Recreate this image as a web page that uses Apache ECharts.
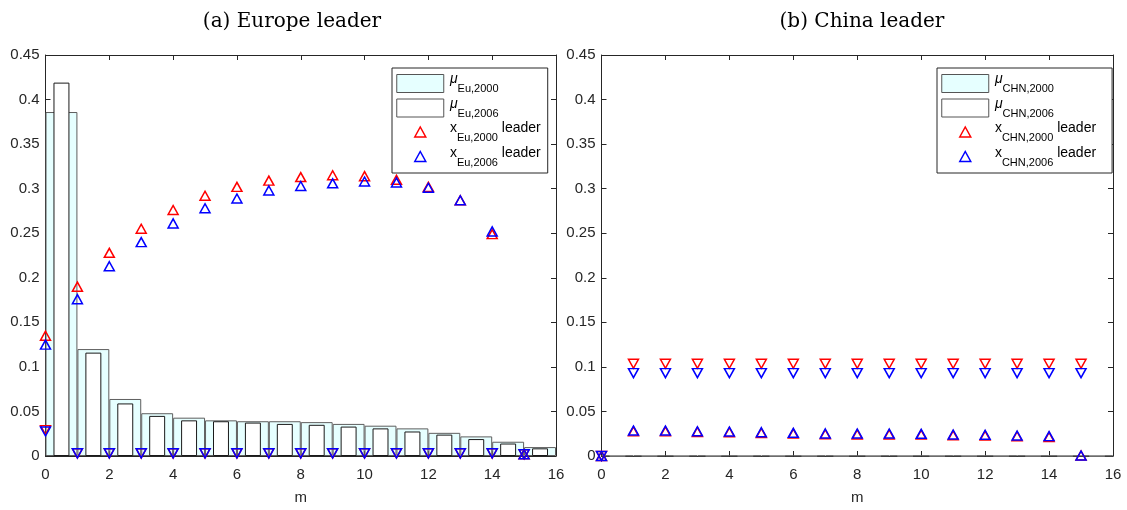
<!DOCTYPE html>
<html>
<head>
<meta charset="utf-8">
<script src="https://cdn.jsdelivr.net/npm/echarts@6/dist/echarts.min.js"></script>
<style>
  html, body { margin: 0; background: #fff; }
  #chart { width: 1127px; height: 510px; }
</style>
</head>
<body>
<div id="chart"></div>
<script>
// m = 0..15, bars sit in the cell [m, m+1]
const m = [0, 1, 2, 3, 4, 5, 6, 7, 8, 9, 10, 11, 12, 13, 14, 15];
const barX = m.map(v => v + 0.5);

// (a) Europe leader
const euMu2000 = [0.386, 0.120, 0.064, 0.048, 0.043, 0.040, 0.039, 0.039, 0.038, 0.036, 0.034, 0.031, 0.026, 0.022, 0.016, 0.010];
const euMu2006 = [0.419, 0.116, 0.059, 0.045, 0.040, 0.039, 0.0375, 0.036, 0.035, 0.033, 0.031, 0.0275, 0.024, 0.019, 0.014, 0.0086];
const euX2000Up = [0.135, 0.190, 0.228, 0.255, 0.276, 0.292, 0.302, 0.309, 0.313, 0.315, 0.314, 0.310, 0.302, 0.287, 0.249, 0.002];
const euX2006Up = [0.125, 0.176, 0.213, 0.240, 0.261, 0.278, 0.289, 0.298, 0.303, 0.306, 0.308, 0.307, 0.301, 0.287, 0.252, 0.002];
const euX2000Down = [0.029, 0.003, 0.003, 0.003, 0.003, 0.003, 0.003, 0.003, 0.003, 0.003, 0.003, 0.003, 0.003, 0.003, 0.003, 0.002];
const euX2006Down = [0.0275, 0.003, 0.003, 0.003, 0.003, 0.003, 0.003, 0.003, 0.003, 0.003, 0.003, 0.003, 0.003, 0.003, 0.003, 0.002];

// (b) China leader
const chnMu2000 = [0.0007, 0.0007, 0.0007, 0.0007, 0.0007, 0.0007, 0.0007, 0.0007, 0.0007, 0.0007, 0.0007, 0.0007, 0.0007, 0.0007, 0.0007, 0.0007];
const chnMu2006 = [0.0004, 0.0004, 0.0004, 0.0004, 0.0004, 0.0004, 0.0004, 0.0004, 0.0004, 0.0004, 0.0004, 0.0004, 0.0004, 0.0004, 0.0004, 0.0004];
const chnX2000Up = [0, 0.0276, 0.0276, 0.027, 0.0266, 0.0258, 0.0251, 0.0244, 0.0242, 0.0241, 0.024, 0.0232, 0.0229, 0.0221, 0.0214, 0.0005];
const chnX2006Up = [0, 0.0286, 0.0286, 0.0278, 0.0275, 0.0267, 0.026, 0.0253, 0.0252, 0.0252, 0.0249, 0.0241, 0.0238, 0.023, 0.0223, 0.0005];
const chnX2000Down = [0, 0.1035, 0.1035, 0.1035, 0.1035, 0.1035, 0.1035, 0.1035, 0.1035, 0.1035, 0.1035, 0.1035, 0.1035, 0.1035, 0.1035, 0.1035];
const chnX2006Down = [0, 0.093, 0.093, 0.093, 0.093, 0.093, 0.093, 0.093, 0.093, 0.093, 0.093, 0.093, 0.093, 0.093, 0.093, 0.093];

const xTicks = { min: 0, max: 16, interval: 2 };
const yTicks = { min: 0, max: 0.45, interval: 0.05 };

const AX = '#262626';
const SANS = 'Liberation Sans, Arial, Helvetica, sans-serif';
const CYAN = '#e6ffff';

const pairs = (xs, ys) => xs.map((x, i) => [x, ys[i]]);

function xAxis(gridIndex, pos) {
  const bottom = pos === 'bottom';
  return {
    type: 'value', gridIndex, position: pos,
    min: xTicks.min, max: xTicks.max, interval: xTicks.interval,
    name: bottom ? 'm' : '', nameLocation: 'middle', nameGap: 34,
    nameTextStyle: { color: AX, fontSize: 15, fontFamily: SANS },
    axisLine: { show: true, onZero: false, lineStyle: { color: AX, width: 1 } },
    axisTick: { show: true, inside: true, length: 5, lineStyle: { color: AX } },
    axisLabel: { show: bottom, color: AX, fontSize: 15, fontFamily: SANS, margin: 11 },
    splitLine: { show: false }
  };
}

function yAxis(gridIndex, pos) {
  return {
    type: 'value', gridIndex, position: pos,
    min: yTicks.min, max: yTicks.max, interval: yTicks.interval,
    axisLine: { show: true, onZero: false, lineStyle: { color: AX, width: 1 } },
    axisTick: { show: true, inside: true, length: 5, lineStyle: { color: AX } },
    axisLabel: { show: pos === 'left', color: AX, fontSize: 15, fontFamily: SANS, margin: 6 },
    splitLine: { show: false }
  };
}

function bar(name, xi, yi, ys, fill, edge, width) {
  return {
    name, type: 'bar', xAxisIndex: xi, yAxisIndex: yi,
    data: pairs(barX, ys), barWidth: width,
    itemStyle: { color: fill, borderColor: edge, borderWidth: 1 },
    silent: true
  };
}

function marks(name, xi, yi, ys, color, down) {
  return {
    name, type: 'scatter', xAxisIndex: xi, yAxisIndex: yi,
    data: pairs(m, ys),
    symbol: 'triangle', symbolSize: [10, 9], symbolRotate: down ? 180 : 0,
    itemStyle: { color: 'rgba(0,0,0,0)', borderColor: color, borderWidth: 1.5, opacity: 1 },
    silent: true
  };
}

const triUp = 'path://M0,0M47,18M18,13.5L23.5,3.5L29,13.5Z';

const rich = {
  sp: { fontSize: 14, lineHeight: 22, fontFamily: SANS },
  g: { fontSize: 14, lineHeight: 18, verticalAlign: 'top', fontFamily: SANS, color: '#000' },
  mu: { fontSize: 14, lineHeight: 18, verticalAlign: 'top', fontFamily: SANS, fontStyle: 'italic', color: '#000' },
  s: { fontSize: 11, lineHeight: 10, verticalAlign: 'bottom', fontFamily: SANS, color: '#000' },
  l: { fontSize: 14, lineHeight: 18, verticalAlign: 'top', fontFamily: SANS, color: '#000' }
};

const labels = {
  'mu2000eu': '{sp|\u200a}{mu|\u03bc}{s|Eu,2000}',
  'mu2006eu': '{sp|\u200a}{mu|\u03bc}{s|Eu,2006}',
  'x2000eu': '{sp|\u200a}{g|x}{s|Eu,2000}{l| leader}',
  'x2006eu': '{sp|\u200a}{g|x}{s|Eu,2006}{l| leader}',
  'mu2000chn': '{sp|\u200a}{mu|\u03bc}{s|CHN,2000}',
  'mu2006chn': '{sp|\u200a}{mu|\u03bc}{s|CHN,2006}',
  'x2000chn': '{sp|\u200a}{g|x}{s|CHN,2000}{l| leader}',
  'x2006chn': '{sp|\u200a}{g|x}{s|CHN,2006}{l| leader}'
};

function legendItems(tag) {
  return [
    { name: 'mu2000' + tag, icon: 'rect', itemStyle: { color: CYAN, borderColor: '#555', borderWidth: 1 } },
    { name: 'mu2006' + tag, icon: 'rect', itemStyle: { color: '#fff', borderColor: '#555', borderWidth: 1 } },
    { name: 'x2000' + tag, icon: triUp, itemStyle: { color: 'rgba(0,0,0,0)', borderColor: '#ff0000', borderWidth: 1.5 } },
    { name: 'x2006' + tag, icon: triUp, itemStyle: { color: 'rgba(0,0,0,0)', borderColor: '#0000ff', borderWidth: 1.5 } }
  ];
}

function legend(tag, left, padRight) {
  return {
    data: legendItems(tag), orient: 'vertical', left, top: 68,
    itemWidth: 47, itemHeight: 18, itemGap: 2.5,
    padding: [4.5, padRight, 5, 4],
    borderColor: AX, borderWidth: 1, backgroundColor: '#fff',
    selectedMode: false,
    formatter: name => labels[name],
    textStyle: { rich }
  };
}

const titleStyle = { fontFamily: 'DejaVu Serif, serif', fontSize: 20, fontWeight: 'normal', color: '#000' };

const chart = echarts.init(document.getElementById('chart'));
chart.setOption({
  animation: false,
  backgroundColor: '#fff',
  title: [
    { text: '(a) Europe leader', left: 287, top: 7, textAlign: 'center', textStyle: titleStyle },
    { text: '(b) China leader', left: 857, top: 7, textAlign: 'center', textStyle: titleStyle }
  ],
  grid: [
    { left: 45.5, top: 55, width: 510.5, height: 404, containLabel: false },
    { left: 601.5, top: 55, width: 511.5, height: 404, containLabel: false }
  ],
  xAxis: [xAxis(0, 'bottom'), xAxis(0, 'top'), xAxis(1, 'bottom'), xAxis(1, 'top')],
  yAxis: [yAxis(0, 'left'), yAxis(0, 'right'), yAxis(1, 'left'), yAxis(1, 'right')],
  legend: [legend('eu', 392, 7), legend('chn', 937, 16)],
  series: [
    bar('mu2000eu', 0, 0, euMu2000, CYAN, '#5e5e5e', '100%'),
    bar('mu2006eu', 1, 0, euMu2006, '#fff', '#1a1a1a', '50%'),
    marks('x2000eu', 0, 0, euX2000Up, '#ff0000', false),
    marks('x2006eu', 0, 0, euX2006Up, '#0000ff', false),
    marks('x2000eu_down', 0, 0, euX2000Down, '#ff0000', true),
    marks('x2006eu_down', 0, 0, euX2006Down, '#0000ff', true),

    bar('mu2000chn', 2, 2, chnMu2000, CYAN, '#6e6e6e', '100%'),
    bar('mu2006chn', 3, 2, chnMu2006, '#fff', '#9a9a9a', '50%'),
    marks('x2000chn', 2, 2, chnX2000Up, '#ff0000', false),
    marks('x2006chn', 2, 2, chnX2006Up, '#0000ff', false),
    marks('x2000chn_down', 2, 2, chnX2000Down, '#ff0000', true),
    marks('x2006chn_down', 2, 2, chnX2006Down, '#0000ff', true)
  ]
});
</script>
</body>
</html>
